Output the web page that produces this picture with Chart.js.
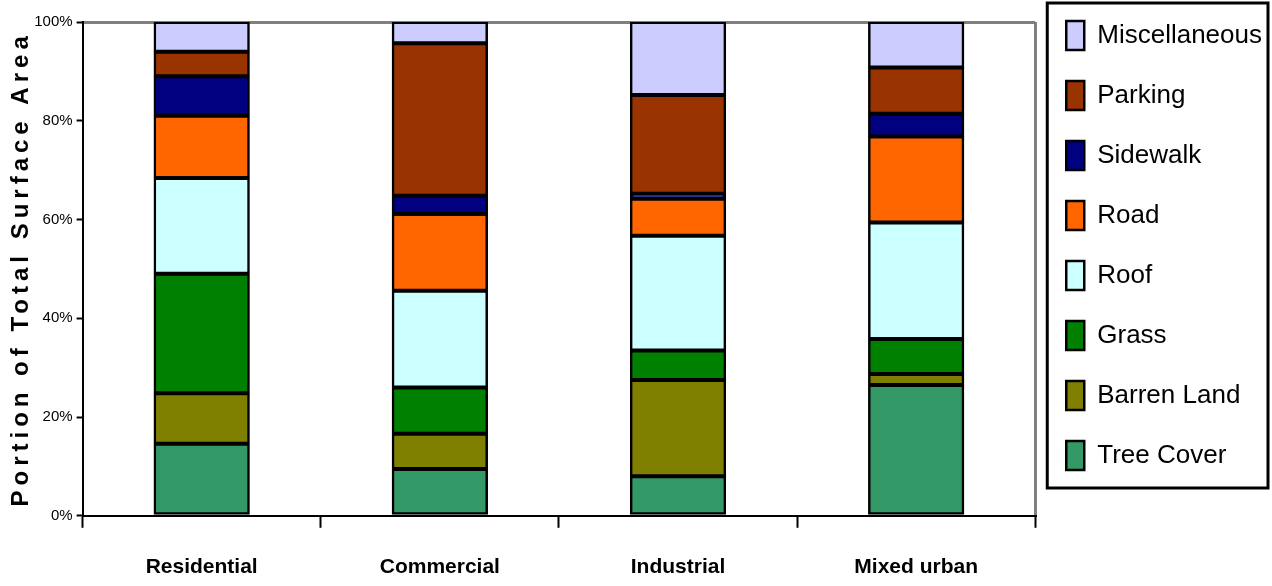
<!DOCTYPE html>
<html>
<head>
<meta charset="utf-8">
<script src="https://cdn.jsdelivr.net/npm/chart.js@4/dist/chart.umd.min.js"></script>
<style>
  html, body { margin: 0; padding: 0; background: #fff; }
  #wrap { width: 1272px; height: 586px; }
</style>
</head>
<body>
<div id="wrap"><canvas id="surfaceChart"></canvas></div>
<script>
// Land use categories
const categorias = ['Residential', 'Commercial', 'Industrial', 'Mixed urban'];

// Share of total surface area (%), bottom of the stack first
const treeCover = [14.6, 9.5, 8.0, 26.5];
const barrenLand = [10.2, 7.1, 19.5, 2.2];
const grass = [24.2, 9.4, 6.0, 7.1];
const roof = [19.4, 19.6, 23.2, 23.6];
const road = [12.6, 15.5, 7.5, 17.4];
const sidewalk = [8.0, 3.7, 1.0, 4.6];
const parking = [5.0, 30.9, 20.0, 9.4];
const miscellaneous = [6.0, 4.3, 14.8, 9.2];

// Y axis ticks
const yTicks = [0, 20, 40, 60, 80, 100];

const fonte = '"Liberation Sans", Arial, sans-serif';
Chart.defaults.font.family = fonte;
Chart.defaults.color = '#000';

function serie(label, data, cor) {
    return {
        label: label,
        data: data,
        backgroundColor: cor,
        borderColor: '#000',
        borderWidth: 2.5,
        borderSkipped: false,
        inflateAmount: 0.5,
        barPercentage: 0.4,
        categoryPercentage: 1
    };
}

// Wider letter spacing for the y axis title
const tituloEspacado = {
    id: 'tituloEspacado',
    beforeDraw(chart) {
        const s = chart.scales.y;
        if (s._espacado) return;
        const original = s.drawTitle.bind(s);
        s.drawTitle = function () {
            chart.ctx.save();
            chart.ctx.letterSpacing = '5px';
            original();
            chart.ctx.restore();
        };
        s._espacado = true;
    }
};

// Black frame around the legend items
const molduraLegenda = {
    id: 'molduraLegenda',
    afterDraw(chart) {
        const leg = chart.legend;
        const boxes = leg.legendHitBoxes;
        if (!boxes || !boxes.length) return;
        const primeiro = boxes[0];
        const ultimo = boxes[boxes.length - 1];
        const ctx = chart.ctx;
        const x0 = primeiro.left - 19;
        const x1 = leg.right - 4;
        const y0 = primeiro.top - 18;
        const y1 = ultimo.top + ultimo.height + 18;
        ctx.save();
        ctx.strokeStyle = '#000';
        ctx.lineWidth = 3;
        ctx.strokeRect(x0, y0, x1 - x0, y1 - y0);
        ctx.restore();
    }
};

const grafico = new Chart(document.getElementById('surfaceChart'), {
    type: 'bar',
    data: {
        labels: categorias,
        datasets: [
            serie('Tree Cover', treeCover, '#339966'),
            serie('Barren Land', barrenLand, '#808000'),
            serie('Grass', grass, '#008000'),
            serie('Roof', roof, '#CCFFFF'),
            serie('Road', road, '#FF6600'),
            serie('Sidewalk', sidewalk, '#000080'),
            serie('Parking', parking, '#993300'),
            serie('Miscellaneous', miscellaneous, '#CCCCFF')
        ]
    },
    options: {
        responsive: true,
        maintainAspectRatio: false,
        animation: false,
        layout: {
            padding: { top: -10, left: 12, right: 0, bottom: -21 }
        },
        plugins: {
            tooltip: { enabled: false },
            legend: {
                position: 'right',
                align: 'start',
                reverse: true,
                labels: {
                    boxWidth: 18,
                    boxHeight: 29,
                    padding: 31,
                    color: '#000',
                    font: { size: 26, family: fonte }
                }
            }
        },
        scales: {
            x: {
                stacked: true,
                offset: true,
                border: { color: '#000', width: 2 },
                grid: {
                    offset: true,
                    drawOnChartArea: true,
                    drawTicks: true,
                    tickLength: 12,
                    lineWidth: 3,
                    tickWidth: 2,
                    tickColor: '#000',
                    color: (c) => c.type === 'scale' ? '#808080' : 'rgba(0,0,0,0)'
                },
                ticks: {
                    padding: 27,
                    color: '#000',
                    font: { size: 21, weight: 'bold', family: fonte }
                }
            },
            y: {
                stacked: true,
                min: 0,
                max: 100,
                afterFit: (scale) => { scale.paddingTop = 22; },
                afterBuildTicks: (scale) => {
                    scale.ticks = yTicks.map(v => ({ value: v }));
                },
                border: { color: '#000', width: 2 },
                grid: {
                    drawOnChartArea: true,
                    tickLength: 6,
                    lineWidth: 3,
                    tickWidth: 2,
                    tickColor: '#000',
                    color: (c) => c.tick && c.tick.value === 100 ? '#808080' : 'rgba(0,0,0,0)'
                },
                ticks: {
                    padding: 4,
                    color: '#000',
                    font: { size: 15, family: fonte },
                    callback: (v) => v + '%'
                },
                title: {
                    display: true,
                    text: 'Portion of Total Surface Area',
                    color: '#000',
                    padding: 0,
                    font: { size: 24, weight: 'bold', lineHeight: 0.76, family: fonte }
                }
            }
        }
    },
    plugins: [tituloEspacado, molduraLegenda]
});
</script>
</body>
</html>
